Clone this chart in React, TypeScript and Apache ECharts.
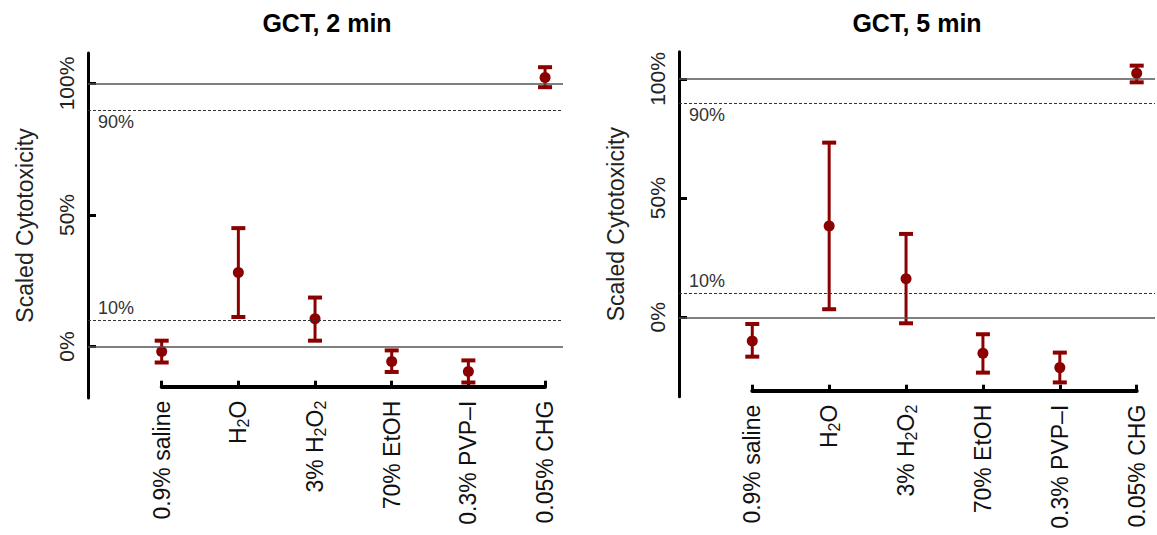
import React, { useEffect, useRef } from "react";
import * as echarts from "echarts";

const categories = ["0.9% saline", "H2O", "3% H2O2", "70% EtOH", "0.3% PVP–I", "0.05% CHG"];
const titles = ["GCT, 2 min", "GCT, 5 min"];
const yTicks = [0, 50, 100];
const refSolid = [100, 0];
const refDashed = [90, 10];

// GCT, 2 min
const mean2 = [-1.9, 28.1, 10.5, -5.7, -9.5, 102.3];
const low2 = [-6.1, 11.2, 2.2, -9.7, -13.7, 98.6];
const high2 = [2.2, 45.0, 18.6, -1.5, -5.3, 106.2];
// GCT, 5 min
const mean5 = [-9.9, 38.3, 16.2, -15.1, -21.1, 102.4];
const low5 = [-16.5, 3.4, -2.5, -23.2, -27.3, 98.6];
const high5 = [-2.8, 73.3, 35.0, -7.1, -14.8, 105.6];

const FONT = "'Liberation Sans', Arial, Helvetica, sans-serif";
const RED = "#8b0000";

function catLabel(v: string) {
  if (v === "H2O") return "{n|H}{s|2}{n|O}";
  if (v === "3% H2O2") return "{n|3% H}{s|2}{n|O}{s|2}";
  return "{n|" + v + "}";
}

function panel(idx: number, cfg: any, mean: number[], low: number[], high: number[]) {
  const gA = idx * 2;
  const gB = idx * 2 + 1;
  const grids = [
    { left: cfg.axisX, top: cfg.top, width: cfg.right - cfg.axisX, height: cfg.bottom - cfg.top },
    { left: cfg.catLeft, top: cfg.xLineY - 10, width: cfg.catRight - cfg.catLeft, height: 10 },
  ];
  const xAxes = [
    { type: "value", gridIndex: gA, min: cfg.xMin, max: cfg.xMax, show: false, axisLine: { onZero: false } },
    {
      type: "category",
      gridIndex: gB,
      data: categories,
      boundaryGap: false,
      axisLine: { show: true, onZero: false, lineStyle: { color: "#000", width: 4 } },
      axisTick: { show: true, inside: true, length: 6, lineStyle: { color: "#000", width: 3 } },
      axisLabel: {
        interval: 0,
        rotate: 90,
        margin: 14,
        color: "#111",
        fontFamily: FONT,
        formatter: (v: string) => catLabel(v),
        rich: {
          n: { fontSize: 23, fontFamily: FONT, color: "#111", lineHeight: 27, verticalAlign: "middle" },
          s: { fontSize: 16, fontFamily: FONT, color: "#111", lineHeight: 15, verticalAlign: "bottom" },
        },
      },
      splitLine: { show: false },
    },
  ];
  const yAxes = [
    {
      type: "value",
      gridIndex: gA,
      min: cfg.yMin,
      max: cfg.yMax,
      name: "Scaled Cytotoxicity",
      nameLocation: "middle",
      nameGap: 52,
      nameTextStyle: { fontSize: 23, fontFamily: FONT, color: "#222" },
      axisLine: { show: true, onZero: false, lineStyle: { color: "#000", width: 3 } },
      axisTick: { show: true, inside: true, length: 8, customValues: yTicks, lineStyle: { color: "#000", width: 3 } },
      axisLabel: {
        rotate: 90,
        margin: 11,
        customValues: yTicks,
        formatter: "{value}%",
        fontSize: 21,
        fontFamily: FONT,
        color: "#222",
      },
      splitLine: { show: false },
    },
    { type: "value", gridIndex: gB, show: false, min: 0, max: 1 },
  ];
  const series = [
    {
      type: "custom",
      xAxisIndex: gA,
      yAxisIndex: gA,
      clip: false,
      data: categories.map((_, i) => [i, low[i], high[i]]),
      encode: { x: 0, y: [1, 2] },
      renderItem: (params: any, api: any) => {
        const x = api.value(0);
        const lo = api.coord([x, api.value(1)]);
        const hi = api.coord([x, api.value(2)]);
        const hw = 7;
        const st = { stroke: RED, lineWidth: 3 };
        const cs = { stroke: RED, lineWidth: 4 };
        return {
          type: "group",
          children: [
            { type: "line", shape: { x1: lo[0], y1: lo[1], x2: hi[0], y2: hi[1] }, style: st },
            { type: "line", shape: { x1: lo[0] - hw, y1: lo[1], x2: lo[0] + hw, y2: lo[1] }, style: cs },
            { type: "line", shape: { x1: hi[0] - hw, y1: hi[1], x2: hi[0] + hw, y2: hi[1] }, style: cs },
          ],
        };
      },
      z: 3,
    },
    {
      type: "scatter",
      xAxisIndex: gA,
      yAxisIndex: gA,
      symbol: "circle",
      symbolSize: 11,
      itemStyle: { color: RED, opacity: 1 },
      data: categories.map((_, i) => [i, mean[i]]),
      z: 4,
      markLine: {
        silent: true,
        symbol: "none",
        animation: false,
        data: [
          ...refSolid.map((v) => ({
            yAxis: v,
            lineStyle: { color: "#555", width: 1.5, type: "solid" },
            label: { show: false },
          })),
          ...refDashed.map((v) => ({
            yAxis: v,
            lineStyle: { color: "#333", width: 1, type: [3, 2] },
            label: {
              show: true,
              position: v > 50 ? "insideStartBottom" : "insideStartTop",
              formatter: v + "%",
              fontSize: 18,
              fontFamily: FONT,
              color: "#333",
              distance: [10, 3],
            },
          })),
        ],
      },
    },
  ];
  const graphic = {
    type: "text",
    x: cfg.titleX,
    y: 23,
    style: {
      text: titles[idx],
      fontSize: 25,
      fontWeight: "bold",
      fontFamily: FONT,
      fill: "#000",
      align: "center",
      verticalAlign: "middle",
    },
  };
  return { grids, xAxes, yAxes, series, graphic };
}

export default function App() {
  const ref = useRef<HTMLDivElement>(null);
  useEffect(() => {
    if (!ref.current) return;
    const chart = echarts.init(ref.current, null, { renderer: "svg" });
    const p1 = panel(
      0,
      {
        axisX: 88, right: 563, top: 53, bottom: 398,
        yMin: -19.6, yMax: 111.6,
        catLeft: 161.7, catRight: 545, xLineY: 386.7,
        xMin: -0.961, xMax: 5.234, titleX: 327,
      },
      mean2, low2, high2
    );
    const p2 = panel(
      1,
      {
        axisX: 679, right: 1155, top: 51.7, bottom: 396.7,
        yMin: -33.3, yMax: 111.45,
        catLeft: 752.3, catRight: 1136.7, xLineY: 390.7,
        xMin: -0.953, xMax: 5.238, titleX: 917,
      },
      mean5, low5, high5
    );
    chart.setOption({
      animation: false,
      backgroundColor: "#fff",
      textStyle: { fontFamily: FONT },
      grid: [...p1.grids, ...p2.grids],
      xAxis: [...p1.xAxes, ...p2.xAxes],
      yAxis: [...p1.yAxes, ...p2.yAxes],
      series: [...p1.series, ...p2.series],
      graphic: [p1.graphic, p2.graphic],
    });
    return () => chart.dispose();
  }, []);
  return (
    <div
      ref={ref}
      style={{ position: "absolute", left: 0, top: 0, width: 1157, height: 535 }}
    />
  );
}
